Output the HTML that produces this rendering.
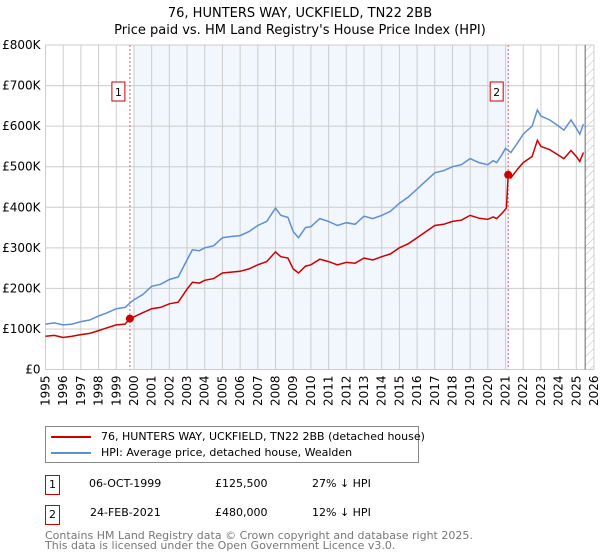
<!DOCTYPE html>
<html><head><meta charset="utf-8"><style>
body{margin:0;background:#fff;font-family:"Liberation Sans","DejaVu Sans",sans-serif;}
#wrap{position:relative;width:600px;height:560px;overflow:hidden}
</style></head><body><div id="wrap">
<svg id="chart" width="600" height="560" style="position:absolute;left:0;top:0">
<text x="300" y="17" text-anchor="middle" font-size="13" font-family="DejaVu Sans,sans-serif">76, HUNTERS WAY, UCKFIELD, TN22 2BB</text>
<text x="300" y="34" text-anchor="middle" font-size="13" font-family="DejaVu Sans,sans-serif">Price paid vs. HM Land Registry's House Price Index (HPI)</text>
<g id="plot"></g>
</svg>
<div style="position:absolute;left:45px;top:426px;width:372px;height:35px;border:1px solid #888;background:#fff">
 <div style="position:absolute;left:5px;top:3px;font:11px 'DejaVu Sans',sans-serif;white-space:nowrap"><span style="display:inline-block;width:40px;height:2px;background:#cc0000;vertical-align:middle;margin-right:10px"></span>76, HUNTERS WAY, UCKFIELD, TN22 2BB (detached house)</div>
 <div style="position:absolute;left:5px;top:19px;font:11px 'DejaVu Sans',sans-serif;white-space:nowrap"><span style="display:inline-block;width:40px;height:2px;background:#5b8fd6;vertical-align:middle;margin-right:10px"></span>HPI: Average price, detached house, Wealden</div>
</div>
<div style="font:11px 'DejaVu Sans',sans-serif">
 <div style="position:absolute;left:45px;top:475px;width:13px;height:18px;border:1px solid #cc0000;text-align:center;line-height:18px">1</div>
 <div style="position:absolute;left:89px;top:477px">06-OCT-1999</div>
 <div style="position:absolute;left:215px;top:477px">£125,500</div>
 <div style="position:absolute;left:312px;top:477px">27% ↓ HPI</div>
</div>
<div style="font:11px 'DejaVu Sans',sans-serif">
 <div style="position:absolute;left:45px;top:505px;width:13px;height:18px;border:1px solid #cc0000;text-align:center;line-height:18px">2</div>
 <div style="position:absolute;left:90px;top:506px">24-FEB-2021</div>
 <div style="position:absolute;left:215px;top:506px">£480,000</div>
 <div style="position:absolute;left:312px;top:506px">12% ↓ HPI</div>
</div>
<div style="position:absolute;left:45px;top:531px;font:11px 'DejaVu Sans',sans-serif;color:#777;line-height:10px;white-space:nowrap">Contains HM Land Registry data © Crown copyright and database right 2025.<br>This data is licensed under the Open Government Licence v3.0.</div>
</div>
<script>
const hpiYears=[1995,1995.5,1996,1996.5,1997,1997.5,1998,1998.5,1999,1999.5,1999.8,2000,2000.5,2001,2001.5,2002,2002.5,2003,2003.3,2003.7,2004,2004.5,2005,2005.5,2006,2006.5,2007,2007.5,2008,2008.3,2008.7,2009,2009.3,2009.7,2010,2010.5,2011,2011.5,2012,2012.5,2013,2013.5,2014,2014.5,2015,2015.5,2016,2016.5,2017,2017.5,2018,2018.5,2019,2019.5,2020,2020.3,2020.5,2020.8,2021,2021.3,2021.7,2022,2022.5,2022.8,2023,2023.5,2024,2024.3,2024.7,2025,2025.2,2025.4];
const hpiValues=[112,115,110,112,118,122,132,140,150,153,165,172,185,205,210,222,228,270,295,293,300,305,325,328,330,340,355,365,398,380,375,340,325,350,352,372,365,355,362,358,378,372,380,390,410,425,445,465,485,490,500,505,520,510,505,515,510,530,545,535,560,580,600,640,625,615,600,590,615,595,580,605];
const propYears=[1995,1995.5,1996,1996.5,1997,1997.5,1998,1998.5,1999,1999.5,1999.77,2000,2000.5,2001,2001.5,2002,2002.5,2003,2003.3,2003.7,2004,2004.5,2005,2005.5,2006,2006.5,2007,2007.5,2008,2008.3,2008.7,2009,2009.3,2009.7,2010,2010.5,2011,2011.5,2012,2012.5,2013,2013.5,2014,2014.5,2015,2015.5,2016,2016.5,2017,2017.5,2018,2018.5,2019,2019.5,2020,2020.3,2020.5,2020.8,2021.05,2021.15,2021.3,2021.7,2022,2022.5,2022.8,2023,2023.5,2024,2024.3,2024.7,2025,2025.2,2025.4];
const propValues=[82,84,79,82,86,89,96,103,110,112,125.5,130,140,150,153,162,166,198,215,213,220,224,238,240,242,248,258,266,290,278,275,248,238,255,258,272,266,258,264,262,275,270,278,285,300,310,325,340,355,358,365,368,380,373,370,376,372,385,398,480,472,495,510,525,565,550,542,528,520,540,525,513,535];
const saleYears=[1999.77,2021.15];
const saleValues=[125.5,480];
const saleLabels=["1","2"];
const yTicks=[0,100,200,300,400,500,600,700,800];
const yTickLabels=["£0","£100K","£200K","£300K","£400K","£500K","£600K","£700K","£800K"];
const xTicks=[1995,1996,1997,1998,1999,2000,2001,2002,2003,2004,2005,2006,2007,2008,2009,2010,2011,2012,2013,2014,2015,2016,2017,2018,2019,2020,2021,2022,2023,2024,2025,2026];

const L=45.5,R=594,T=45,B=369.5;
const X=y=>L+(y-1995)/(2026-1995)*(R-L);
const Y=v=>B-v/800*(B-T);
const NS="http://www.w3.org/2000/svg";
const g=document.getElementById('plot');
function mk(tag,attrs,parent){const e=document.createElementNS(NS,tag);for(const k in attrs)e.setAttribute(k,attrs[k]);(parent||g).appendChild(e);return e;}
let sh=mk('rect',{x:X(2000),y:T,width:X(saleYears[1])-X(2000),height:B-T,fill:'#eef3fc',opacity:0.75});


const defs=mk('defs',{});
const pat=mk('pattern',{id:'hatch',width:6,height:6,patternUnits:'userSpaceOnUse',patternTransform:'rotate(45)'},defs);
mk('line',{x1:0,y1:0,x2:0,y2:6,stroke:'#bbb','stroke-width':1},pat);
let hz=mk('rect',{x:X(2025.5),y:T,width:R-X(2025.5),height:B-T,fill:'url(#hatch)'});


xTicks.forEach((t,i)=>{
 let l=mk('line',{x1:X(t),x2:X(t),y1:T,y2:B,stroke:'#ccc','stroke-width':1});
 
 
 let tx=mk('text',{x:0,y:0,transform:`translate(${X(t)+4},${B+6}) rotate(-90)`,'text-anchor':'end','font-size':12,'font-family':'DejaVu Sans,sans-serif'});
 tx.textContent=t;
 
 
});
yTicks.forEach((t,i)=>{
 let l=mk('line',{x1:L,x2:R,y1:Y(t),y2:Y(t),stroke:'#ccc','stroke-width':1});
 
 
 let tx=mk('text',{x:L-5,y:Y(t)+4,'text-anchor':'end','font-size':12,'font-family':'DejaVu Sans,sans-serif'});
 tx.textContent=yTickLabels[i];
 
 
});
mk('line',{x1:X(2025.5),x2:X(2025.5),y1:T,y2:B,stroke:'#666','stroke-width':1});
saleYears.forEach((s,i)=>{
 let l=mk('line',{x1:X(s),x2:X(s),y1:T,y2:B,stroke:'#e06060','stroke-width':1,'stroke-dasharray':'2,2'});
 
 
 let r=mk('rect',{x:X(s)-18,y:82,width:13,height:19,fill:'#fff',stroke:'#cc0000'});
 
 
 let t=mk('text',{x:X(s)-11.5,y:96,'text-anchor':'middle','font-size':11,'font-family':'DejaVu Sans,sans-serif'});
 t.textContent=saleLabels[i];
});
function path(xs,vs){return xs.map((x,i)=>(i?'L':'M')+X(x).toFixed(1)+','+Y(vs[i]).toFixed(1)).join('');}
let hp=mk('path',{d:path(hpiYears,hpiValues),fill:'none',stroke:'#5b8fd6','stroke-width':1.5});


let pp=mk('path',{d:path(propYears,propValues),fill:'none',stroke:'#cc0000','stroke-width':1.5});


saleYears.forEach((s,i)=>{
 let c=mk('circle',{cx:X(s),cy:Y(saleValues[i]),r:4,fill:'#cc0000'});
 
 
});
</script>
</body></html>
